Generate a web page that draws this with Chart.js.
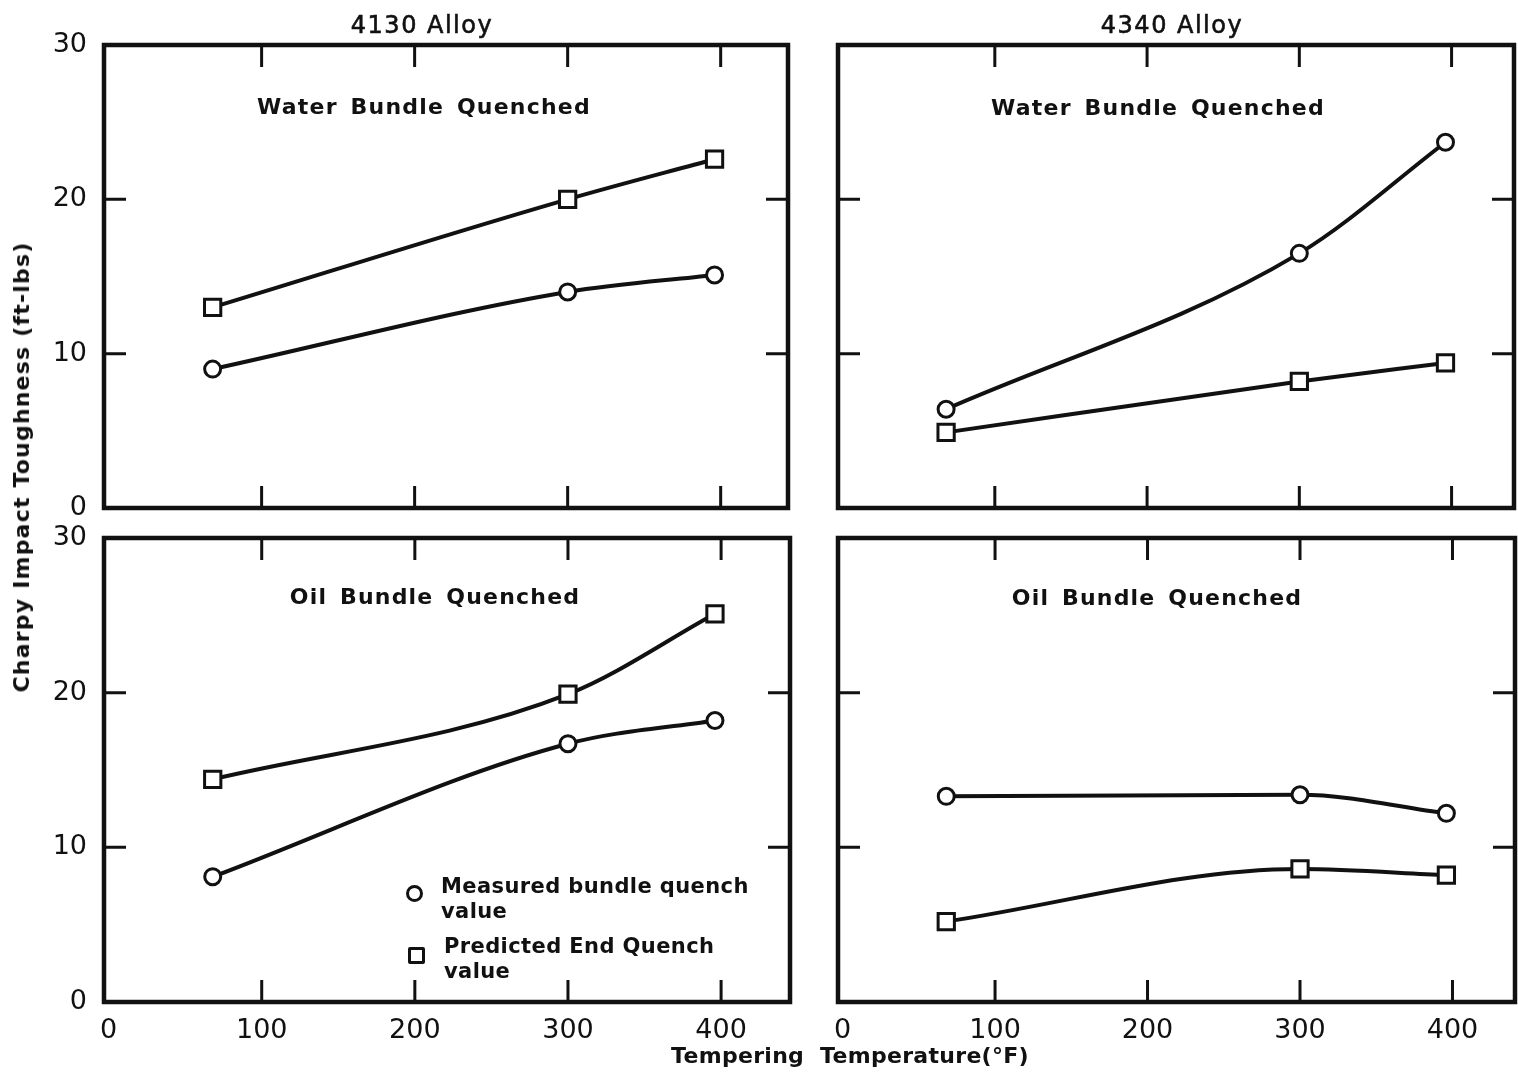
<!DOCTYPE html>
<html><head><meta charset="utf-8">
<script src="https://cdn.jsdelivr.net/npm/chart.js@4.4.0/dist/chart.umd.min.js"></script>
<style>
html,body{margin:0;padding:0;background:#fff;}
#wrap{position:relative;width:1518px;height:1076px;overflow:hidden;background:#fff;}
canvas{position:absolute;left:0;top:0;}
.t{position:absolute;font-family:'DejaVu Sans',sans-serif;font-weight:bold;color:#111;white-space:nowrap;transform:translate(-50%,-50%);line-height:1;}
.lg{position:absolute;font-family:'DejaVu Sans',sans-serif;font-weight:bold;color:#111;white-space:nowrap;font-size:21px;line-height:25px;letter-spacing:0.4px;}
.mk{position:absolute;box-sizing:border-box;border:3px solid #111;background:#fff;}
</style></head><body>
<div id="wrap">
<canvas id="c0" width="1518" height="1076"></canvas>
<canvas id="c1" width="1518" height="1076"></canvas>
<canvas id="c2" width="1518" height="1076"></canvas>
<canvas id="c3" width="1518" height="1076"></canvas>
</div>
<script>
// ---- data ----
const temps = [68, 300, 396];
const alloys = ['4130 Alloy', '4340 Alloy'];
const quenches = ['Water Bundle Quenched', 'Oil Bundle Quenched'];
const xTickLabels = [0, 100, 200, 300, 400];
const yTickLabels = [0, 10, 20, 30];
const xInnerTicks = [100, 200, 300, 400];
const yInnerTicks = [10, 20];
const seriesNames = ['Measured bundle quench value', 'Predicted End Quench value'];
const legendLines = [['Measured bundle quench', 'value'], ['Predicted End Quench', 'value']];
const yTitle = 'Charpy Impact Toughness (ft-lbs)';
const xTitle = 'Tempering  Temperature(°F)';
const measured4130Water = [9.0, 14.0, 15.1];
const predicted4130Water = [13.0, 20.0, 22.6];
const measured4340Water = [6.4, 16.5, 23.7];
const predicted4340Water = [4.9, 8.2, 9.4];
const measured4130Oil = [8.1, 16.7, 18.2];
const predicted4130Oil = [14.4, 19.9, 25.1];
const measured4340Oil = [13.3, 13.4, 12.2];
const predicted4340Oil = [5.2, 8.6, 8.2];

// ---- layout ----
const INK = '#111';
const panels = [
  {id:'c0', m:measured4130Water, p:predicted4130Water, area:{l:104,r:788,t:45,b:508}, xmin:-3, xmax:444, showX:false, showY:true},
  {id:'c1', m:measured4340Water, p:predicted4340Water, area:{l:838,r:1514,t:45,b:508}, xmin:-3, xmax:441, showX:false, showY:false},
  {id:'c2', m:measured4130Oil, p:predicted4130Oil, area:{l:104,r:790,t:538,b:1002}, xmin:-3, xmax:445, showX:true, showY:true},
  {id:'c3', m:measured4340Oil, p:predicted4340Oil, area:{l:838,r:1515,t:538,b:1002}, xmin:-3, xmax:441, showX:true, showY:false}
];

const framePlugin = {
  id: 'frame',
  beforeDatasetsDraw(chart) {
    const ctx = chart.ctx, a = chart.chartArea, xs = chart.scales.x, ys = chart.scales.y;
    ctx.save();
    ctx.strokeStyle = INK;
    ctx.lineWidth = 4.5;
    ctx.lineJoin = 'miter';
    ctx.strokeRect(a.left, a.top, a.right - a.left, a.bottom - a.top);
    ctx.lineWidth = 3;
    const L = 22;
    ctx.beginPath();
    xInnerTicks.forEach(v => {
      const px = xs.getPixelForValue(v);
      ctx.moveTo(px, a.bottom); ctx.lineTo(px, a.bottom - L);
      ctx.moveTo(px, a.top); ctx.lineTo(px, a.top + L);
    });
    yInnerTicks.forEach(v => {
      const py = ys.getPixelForValue(v);
      ctx.moveTo(a.left, py); ctx.lineTo(a.left + L, py);
      ctx.moveTo(a.right, py); ctx.lineTo(a.right - L, py);
    });
    ctx.stroke();
    ctx.restore();
  }
};

panels.forEach(pn => {
  const xH = pn.showX ? 50 : 0;
  const yW = pn.showY ? pn.area.l : 0;
  new Chart(document.getElementById(pn.id), {
    type: 'line',
    data: {
      datasets: [
        {label: seriesNames[0], data: temps.map((x, i) => ({x, y: pn.m[i]})), pointStyle: 'circle', pointRadius: 8},
        {label: seriesNames[1], data: temps.map((x, i) => ({x, y: pn.p[i]})), pointStyle: 'rect', pointRadius: 11.5}
      ]
    },
    options: {
      responsive: false, animation: false, devicePixelRatio: 1,
      layout: {autoPadding: false, padding: {left: pn.showY ? 0 : pn.area.l, right: 1518 - pn.area.r, top: pn.area.t, bottom: 1076 - pn.area.b - xH}},
      plugins: {legend: {display: false}, tooltip: {enabled: false}},
      elements: {
        line: {tension: 0.4, cubicInterpolationMode: 'monotone', borderWidth: 4, borderColor: INK, fill: false},
        point: {borderWidth: 3, borderColor: INK, backgroundColor: '#fff'}
      },
      scales: {
        x: {type: 'linear', min: pn.xmin, max: pn.xmax, position: 'bottom',
            grid: {display: false}, border: {display: false},
            afterBuildTicks(s) { s.ticks = xTickLabels.map(v => ({value: v})); },
            ticks: {display: pn.showX, maxRotation: 0, autoSkip: false,
                    color: INK, padding: 5, font: {family: 'DejaVu Sans', size: 27}},
            afterFit(s) { s.height = xH; }},
        y: {type: 'linear', min: 0, max: 30, position: 'left',
            grid: {display: false}, border: {display: false},
            afterBuildTicks(s) { s.ticks = yTickLabels.map(v => ({value: v})); },
            ticks: {display: pn.showY, color: INK, padding: 9, font: {family: 'DejaVu Sans', size: 27}},
            afterFit(s) { s.width = yW; }}
      }
    },
    plugins: [framePlugin]
  });
});

// ---- text ----
const wrap = document.getElementById('wrap');
function addText(txt, x, y, size, extra) {
  const d = document.createElement('div');
  d.className = 't';
  d.textContent = txt;
  d.style.left = x + 'px'; d.style.top = y + 'px'; d.style.fontSize = size + 'px';
  if (extra) Object.assign(d.style, extra);
  wrap.appendChild(d);
  return d;
}
addText(alloys[0], 422, 25, 24, {letterSpacing: '1.5px', fontWeight: 'normal', webkitTextStroke: '0.6px #111'});
addText(alloys[1], 1172, 25, 24, {letterSpacing: '1.5px', fontWeight: 'normal', webkitTextStroke: '0.6px #111'});
addText(quenches[0], 424, 107, 22, {letterSpacing: '1.2px', wordSpacing: '4px'});
addText(quenches[0], 1158, 108, 22, {letterSpacing: '1.2px', wordSpacing: '4px'});
addText(quenches[1], 435, 597, 22, {letterSpacing: '1.2px', wordSpacing: '4px'});
addText(quenches[1], 1157, 598, 22, {letterSpacing: '1.2px', wordSpacing: '4px'});
addText(yTitle, 22, 467, 22, {transform: 'translate(-50%,-50%) rotate(-90deg)', letterSpacing: '1.2px'});
addText(xTitle, 850, 1056, 22, {letterSpacing: '0.3px', whiteSpace: 'pre'});

// legend
function addLegend(lines, x, y) {
  const d = document.createElement('div');
  d.className = 'lg';
  d.innerHTML = lines.map(s => s.replace(/&/g, '&amp;')).join('<br>');
  d.style.left = x + 'px'; d.style.top = y + 'px';
  wrap.appendChild(d);
}
function addMarker(shape, cx, cy, size) {
  const m = document.createElement('div');
  m.className = 'mk';
  m.style.width = size + 'px'; m.style.height = size + 'px';
  m.style.left = (cx - size / 2) + 'px'; m.style.top = (cy - size / 2) + 'px';
  m.style.borderRadius = shape === 'circle' ? '50%' : '2px';
  wrap.appendChild(m);
}
addMarker('circle', 414, 893, 17);
addLegend(legendLines[0], 441, 874);
addMarker('rect', 416, 955, 17);
addLegend(legendLines[1], 444, 934);
</script>
</body></html>
